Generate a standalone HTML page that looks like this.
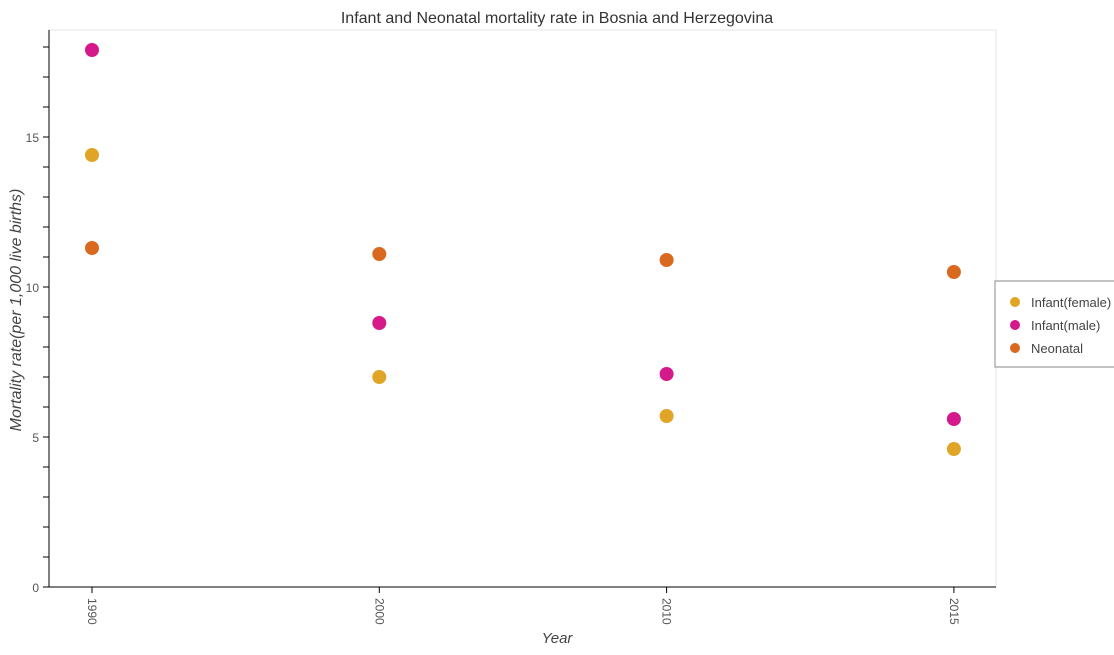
<!DOCTYPE html>
<html><head><meta charset="utf-8"><style>
body{margin:0;background:#fff;font-family:"Liberation Sans",sans-serif}
</style></head><body>
<svg width="1114" height="650" xmlns="http://www.w3.org/2000/svg">
<rect x="49" y="30" width="947" height="557" fill="none" stroke="#e6e6e6"/>
<text x="557" y="23" text-anchor="middle" font-size="16" fill="#333">Infant and Neonatal mortality rate in Bosnia and Herzegovina</text>
<g id="axes"></g>
<g id="marks"></g>
<text x="557" y="643" text-anchor="middle" font-size="15" font-style="italic" fill="#444">Year</text>
<text transform="translate(21,310) rotate(-90)" text-anchor="middle" font-size="16" font-style="italic" fill="#444">Mortality rate(per 1,000 live births)</text>
<g>
<rect x="995" y="281" width="120" height="86" fill="#fff" stroke="#888"/>
<circle cx="1015" cy="302" r="5" fill="#e0a526"/><text x="1031" y="307" font-size="13" fill="#444">Infant(female)</text>
<circle cx="1015" cy="325" r="5" fill="#d6198a"/><text x="1031" y="330" font-size="13" fill="#444">Infant(male)</text>
<circle cx="1015" cy="348" r="5" fill="#d9691f"/><text x="1031" y="353" font-size="13" fill="#444">Neonatal</text>
</g>
</svg>
<script>
const categories=["1990","2000","2010","2015"];
const female=[14.4,7.0,5.7,4.6];
const male=[17.9,8.8,7.1,5.6];
const neonatal=[11.3,11.1,10.9,10.5];
const yTicks=[0,5,10,15];
const NS="http://www.w3.org/2000/svg";
const x0=92,dx=287.3;
function xs(i){return x0+i*dx;}
function ys(v){return 587-v*30;}
const ax=document.getElementById('axes'),mk=document.getElementById('marks');
function el(t,a,p){const e=document.createElementNS(NS,t);for(const k in a)e.setAttribute(k,a[k]);p.appendChild(e);return e;}
const yl=el('line',{x1:49,y1:30,x2:49,y2:587,stroke:'#000'},ax);


const xl=el('line',{x1:49,y1:587,x2:996,y2:587,stroke:'#000'},ax);


for(let v=0;v<=18;v++){el('line',{x1:43,x2:49,y1:ys(v),y2:ys(v),stroke:'#000'},ax);}
yTicks.forEach(v=>{const t=el('text',{x:39,y:ys(v)+5,'text-anchor':'end','font-size':12,fill:'#555'},ax);t.textContent=v;

});
categories.forEach((c,i)=>{el('line',{x1:xs(i),x2:xs(i),y1:587,y2:593,stroke:'#000'},ax);
const t=el('text',{transform:`translate(${xs(i)-4},598) rotate(90)`,'font-size':12,fill:'#555'},ax);t.textContent=c;

});
[[female,'#e0a526','female'],[male,'#d6198a','male'],[neonatal,'#d9691f','neonatal']].forEach(([arr,col,n])=>{
arr.forEach((v,i)=>{const c=el('circle',{cx:xs(i),cy:ys(v),r:7,fill:col},mk);

});});
</script>
</body></html>
